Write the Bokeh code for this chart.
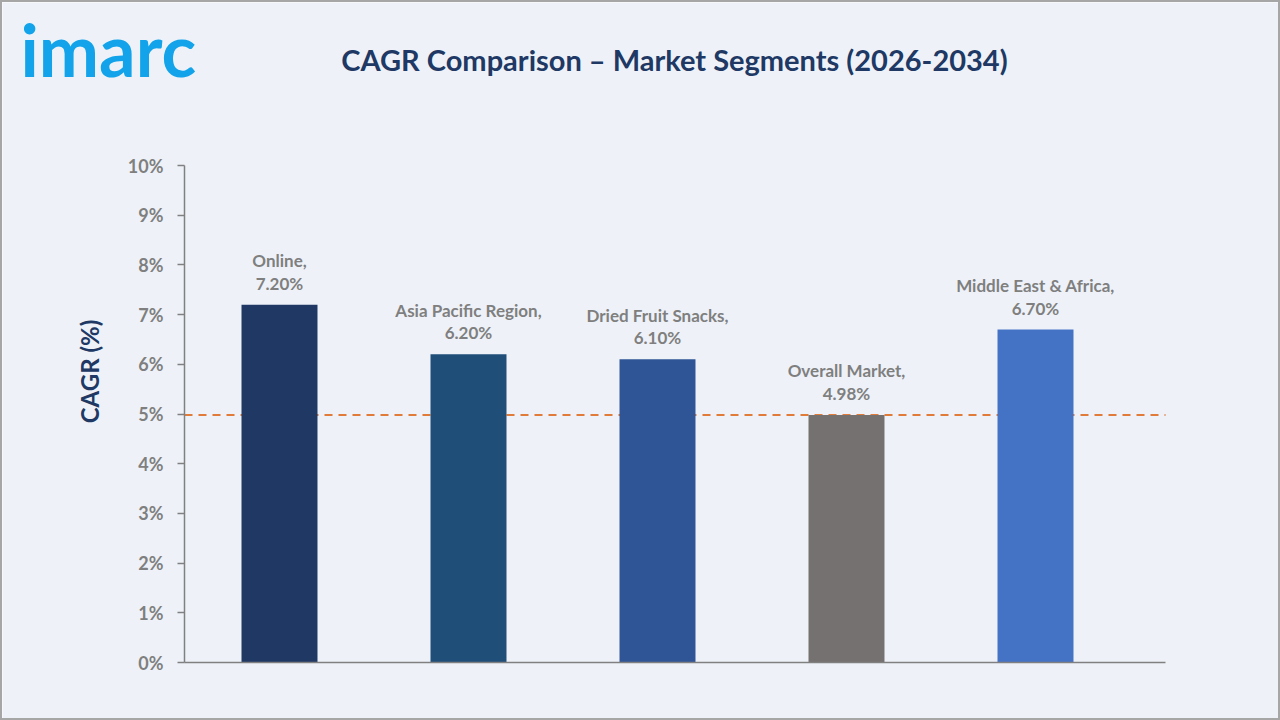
import math
from bokeh.plotting import figure
from bokeh.models import Label, Range1d, ColumnDataSource, FixedTicker, LinearAxis
from bokeh.core.properties import value
from bokeh.embed import file_html
from bokeh.resources import INLINE

# CAGR by market segment, 2026-2034
segments = ["Online", "Asia Pacific Region", "Dried Fruit Snacks", "Overall Market", "Middle East & Africa"]
cagr = [7.20, 6.20, 6.10, 4.98, 6.70]
bar_colors = ["#203864", "#1F4E79", "#2F5597", "#767171", "#4472C4"]
y_ticks = [0, 1, 2, 3, 4, 5, 6, 7, 8, 9, 10]
y_tick_labels = [f"{t}%" for t in y_ticks]
overall_cagr = cagr[segments.index("Overall Market")]

FONT = "Lato"
NAVY = "#203864"
GREY = "#7F7F7F"
AXIS = "#808080"
BG = "#EEF2F8"

# the frame fills the whole canvas; axes are pinned inside it
W, H = 1280, 720
AX_LEFT, AX_RIGHT, AX_BOTTOM = 182, 1163, 660   # axis positions, canvas px
FIRST_BAR_PX, BAR_STEP_PX = 277, 189
PX_PER_PCT = 49.7


def px_x(px):
    return (px - FIRST_BAR_PX) / BAR_STEP_PX


def px_y(py):
    return (AX_BOTTOM - py) / PX_PER_PCT


p = figure(width=W, height=H,
           x_range=Range1d(px_x(0), px_x(W)), y_range=Range1d(px_y(H), px_y(0)),
           x_axis_location=None, y_axis_location=None,
           output_backend="svg", toolbar_location=None,
           min_border=0)
p.styles = {"border": "2px solid #A6A6A6"}
p.background_fill_color = BG
p.border_fill_color = BG
p.outline_line_color = None
p.grid.visible = False

x_lo, x_hi = px_x(AX_LEFT), px_x(AX_RIGHT)

src = ColumnDataSource(dict(
    x=list(range(len(segments))),
    cagr=cagr,
    color=bar_colors,
    label=[f"{s},\n{v:.2f}%" for s, v in zip(segments, cagr)],
))

# overall-market reference line, behind the bars
p.line(x=[x_lo, x_hi], y=[overall_cagr, overall_cagr], line_color="#E07B3A",
       line_dash="8 6", line_width=2)

p.vbar(x="x", top="cagr", width=0.402, fill_color="color", line_color=None, source=src)

p.text(x="x", y="cagr", text="label", source=src,
       text_align="center", text_baseline="bottom", y_offset=-11,
       text_font=value(FONT), text_font_style="bold", text_font_size="17px",
       text_color=GREY, text_line_height=1.08)

# axes
xaxis = LinearAxis(fixed_location=0, bounds=(x_lo, x_hi), ticker=FixedTicker(ticks=[]),
                   axis_line_color=AXIS, axis_line_width=1.5,
                   major_label_text_font_size="0px", minor_tick_line_color=None)
p.add_layout(xaxis, "below")

yaxis = LinearAxis(fixed_location=x_lo, bounds=(y_ticks[0], y_ticks[-1]),
                   ticker=FixedTicker(ticks=y_ticks),
                   major_label_overrides={t: lab for t, lab in zip(y_ticks, y_tick_labels)},
                   axis_line_color=AXIS, axis_line_width=1.5,
                   major_tick_line_color=AXIS, major_tick_line_width=1.5,
                   major_tick_out=7, major_tick_in=0, minor_tick_line_color=None,
                   major_label_standoff=14, major_label_text_font=FONT,
                   major_label_text_font_style="bold", major_label_text_font_size="18px",
                   major_label_text_color=GREY)
p.add_layout(yaxis, "left")

p.add_layout(Label(x=px_x(87), y=px_y(369), text="CAGR (%)", angle=math.pi / 2,
                   text_align="center", text_baseline="middle",
                   text_font=FONT, text_font_style="bold", text_font_size="24px",
                   text_color=NAVY))

# header: title and logo
p.add_layout(Label(x=px_x(672), y=px_y(57),
                   text="CAGR Comparison \u2013 Market Segments (2026-2034)",
                   text_align="center", text_baseline="middle",
                   text_font=FONT, text_font_style="bold", text_font_size="29px",
                   text_color=NAVY))
p.add_layout(Label(x=px_x(18), y=px_y(46), text="imarc",
                   text_align="left", text_baseline="middle",
                   text_font=FONT, text_font_style="bold", text_font_size="72px",
                   text_color="#12A3EA"))

open("out.html", "w").write(file_html(p, INLINE))
